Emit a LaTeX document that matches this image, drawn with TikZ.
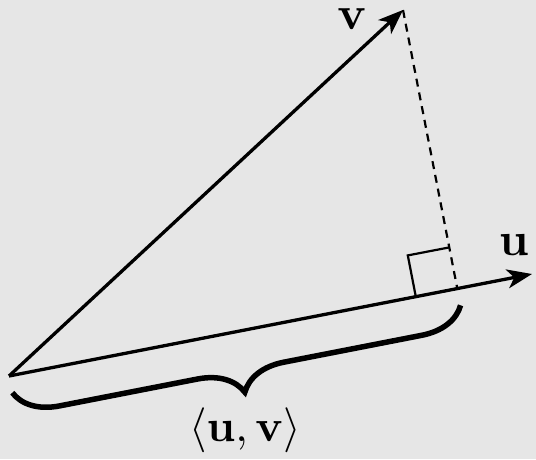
\documentclass[tikz,border=0pt]{standalone}
\usepackage{graphicx}
\usetikzlibrary{arrows.meta,decorations.pathreplacing}
\definecolor{bg}{RGB}{230,230,230}
\begin{document}
\begin{tikzpicture}[x=1pt,y=-1pt,
  vec/.style={line width=3.3pt,-{Stealth[length=25pt,width=19pt,inset=7pt]}},
  lbl/.style={inner sep=0pt},
  proj/.style={line width=2.2pt,dash pattern=on 8pt off 6pt},
  rmark/.style={line width=2.2pt},
  bracestyle/.style={line width=5.5pt,decorate,decoration={brace,mirror,amplitude=44pt}}]
\fill[bg] (0,0) rectangle (536,459);
\useasboundingbox (0,0) rectangle (536,459);
\coordinate (O) at (9,376);
\coordinate (U) at (532,274);
\coordinate (V) at (403,10);
\coordinate (F) at (457.3,288.6);
\coordinate (R1) at (415.8,296.6);
\coordinate (RC) at (407.8,255.4);
\coordinate (R2) at (449.3,247.4);
\coordinate (B1) at (12.3,392.7);
\coordinate (B2) at (460.6,305.3);
\draw[proj] (V) -- (F);
\draw[rmark] (R1) -- (RC) -- (R2);
\draw[vec] (O) -- (U);
\draw[vec] (O) -- (V);
\draw[bracestyle] (B1) -- (B2);
\node[lbl] (lv) at (352,19) {\scalebox{4.7}{$\mathbf{v}$}};
\node[lbl] (lu) at (514,245) {\scalebox{4.7}{$\mathbf{u}$}};
\node[lbl] (lip) at (245,430) {\scalebox{4.5}{$\langle\mathbf{u},\mathbf{v}\rangle$}};
\end{tikzpicture}
\end{document}
